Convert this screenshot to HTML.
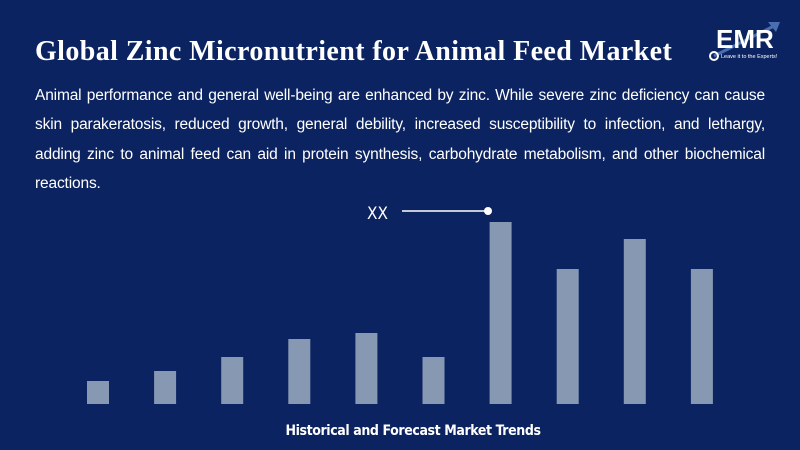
<!DOCTYPE html>
<html><head><meta charset="utf-8"><style>
body{margin:0;width:800px;height:450px;background:#0b2360;overflow:hidden;position:relative;font-family:"Liberation Sans",sans-serif;color:#fff}
#title{position:absolute;left:35px;top:36px;font-family:"Liberation Serif",serif;font-weight:bold;font-size:28px;letter-spacing:0.4px;white-space:nowrap}
#desc{position:absolute;left:35px;top:81px;width:730px;font-size:15.5px;letter-spacing:-0.15px;line-height:29.3px;text-align:justify}
#logo{position:absolute;left:706px;top:18px}
#foot{position:absolute;left:0;width:826px;top:423px;text-align:center;font-weight:bold;font-size:14px;letter-spacing:-0.4px;font-family:"DejaVu Sans Condensed","Liberation Sans",sans-serif}
svg{position:absolute;left:0;top:0}
</style></head><body>
<div id="title">Global Zinc Micronutrient for Animal Feed Market</div>
<div id="logo">
<svg width="80" height="45" style="position:static">
<line x1="8" y1="38" x2="68" y2="8" stroke="#4a6fb0" stroke-width="3"/>
<polygon points="62,4 74,4 70,14" fill="#4a6fb0"/>
<text x="10" y="30" font-family="Liberation Sans" font-weight="bold" font-size="26" fill="#fff">EMR</text>
<circle cx="8" cy="38" r="4" fill="none" stroke="#fff" stroke-width="2"/>
<text x="15" y="40" font-family="Liberation Sans" font-size="5.5" fill="#fff">Leave it to the Experts!</text>
</svg></div>
<div id="desc">Animal performance and general well-being are enhanced by zinc. While severe zinc deficiency can cause skin parakeratosis, reduced growth, general debility, increased susceptibility to infection, and lethargy, adding zinc to animal feed can aid in protein synthesis, carbohydrate metabolism, and other biochemical reactions.</div>
<svg id="chart" width="800" height="450">
<text x="367" y="219" font-size="17" fill="#fff" font-family="DejaVu Sans Condensed, Liberation Sans" font-weight="300">XX</text>
<line x1="402" y1="211" x2="488" y2="211" stroke="#fff" stroke-width="1.5"/>
<circle cx="488" cy="211" r="4" fill="#fff"/>
</svg>
<div id="foot">Historical and Forecast Market Trends</div>
<script>
const categories=["2018","2019","2020","2021","2022","2023","2024","2025","2026","2027"];
const values=[23,33,47,65,71,47,182,135,165,135];
const svg=document.getElementById('chart');
const x0=87,step=67.1,bw=22,baseY=404,scale=1;
function xPos(i){return x0+i*step;}
function yPos(v){return baseY-v*scale;}
values.forEach((v,i)=>{
 const r=document.createElementNS('http://www.w3.org/2000/svg','rect');
 r.setAttribute('x',xPos(i));r.setAttribute('y',yPos(v));
 r.setAttribute('width',bw);r.setAttribute('height',baseY-yPos(v));
 r.setAttribute('fill','#8798b3');
 
 
 svg.appendChild(r);
});
</script>
</body></html>
